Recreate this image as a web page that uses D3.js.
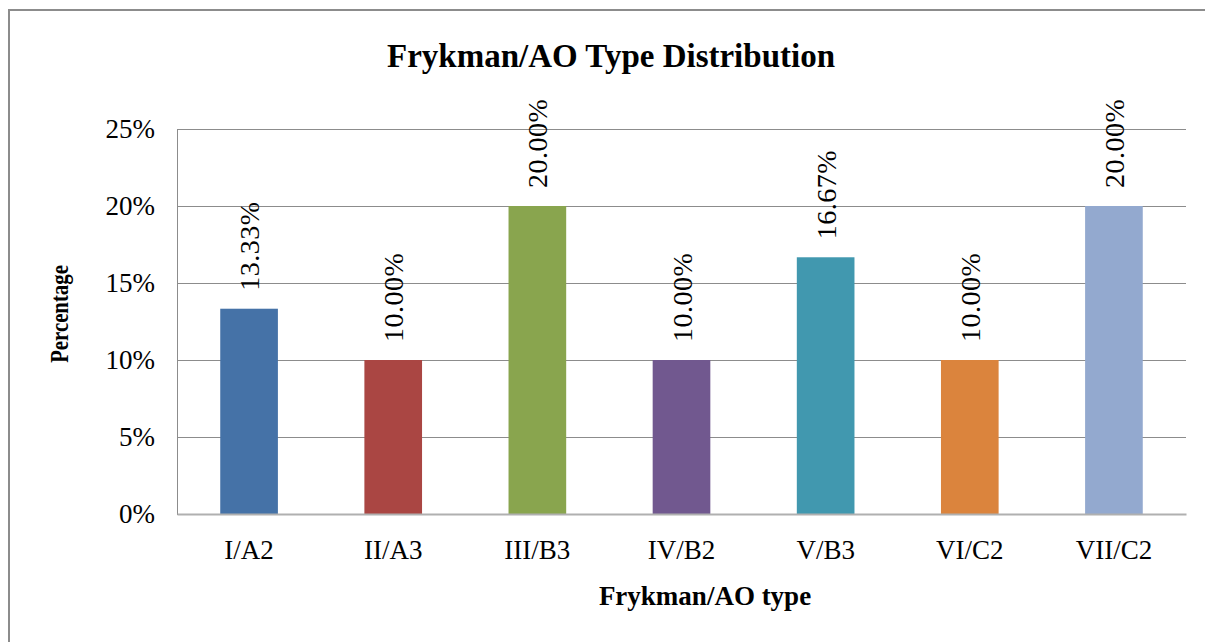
<!DOCTYPE html>
<html>
<head>
<meta charset="utf-8">
<script src="https://cdn.jsdelivr.net/npm/d3@7"></script>
<style>
  body { margin: 0; background: #fff; }
  svg text { font-family: "Liberation Serif", "DejaVu Serif", serif; fill: #000; }
</style>
</head>
<body>
<div id="chart"></div>
<script>
// Frykman/AO type distribution
const categories = ["I/A2", "II/A3", "III/B3", "IV/B2", "V/B3", "VI/C2", "VII/C2"];
const values = [13.33, 10.00, 20.00, 10.00, 16.67, 10.00, 20.00];
const barColors = ["#4572A7", "#AA4643", "#89A54E", "#71588F", "#4198AF", "#DB843D", "#93A9CF"];
const yTicks = [0, 5, 10, 15, 20, 25];

const W = 1205, H = 642;
const plot = { left: 177, top: 129, right: 1186, bottom: 514 };
const serif = "'Liberation Serif', 'DejaVu Serif', serif";

const svg = d3.select("#chart").append("svg")
    .attr("width", W)
    .attr("height", H);

// outer chart frame (runs off the right/bottom edge)
svg.append("rect")
    .attr("x", 9).attr("y", 10)
    .attr("width", W + 20).attr("height", H + 20)
    .attr("fill", "none")
    .attr("stroke", "#8c8c8c")
    .attr("stroke-width", 2);

// Scales
const x = d3.scaleBand().domain(categories).range([plot.left, plot.right]);
const y = d3.scaleLinear().domain([0, 25]).range([plot.bottom, plot.top]);
const barW = x.bandwidth() * 0.4;

// gridlines + y labels
const yAxis = d3.axisLeft(y)
    .tickValues(yTicks)
    .tickSize(-(plot.right - plot.left))
    .tickPadding(22)
    .tickFormat(d => d + "%");

const gy = svg.append("g")
    .attr("transform", "translate(" + plot.left + ",0)")
    .call(yAxis)
    .attr("font-family", serif);
gy.select(".domain").attr("stroke", "#8c8c8c");
gy.selectAll(".tick line").attr("stroke", "#8c8c8c").attr("stroke-width", 1);
gy.selectAll(".tick text")
    .style("font-family", serif)
    .style("font-size", "27px")
    .attr("fill", "#000");

// bars
svg.selectAll("rect.bar")
    .data(values)
    .enter()
    .append("rect")
    .attr("class", "bar")
    .attr("x", (d, i) => x(categories[i]) + (x.bandwidth() - barW) / 2)
    .attr("y", d => y(d))
    .attr("width", barW)
    .attr("height", d => plot.bottom - y(d))
    .attr("fill", (d, i) => barColors[i]);

// x axis
const xAxis = d3.axisBottom(x).tickSize(0).tickPadding(26);
const gx = svg.append("g")
    .attr("transform", "translate(0," + plot.bottom + ")")
    .call(xAxis)
    .attr("font-family", serif);
gx.select(".domain").attr("stroke", "#b0b0b0").attr("stroke-width", 2);
gx.selectAll(".tick text")
    .style("font-family", serif)
    .style("font-size", "27px")
    .attr("fill", "#000");

// value labels, rotated
svg.selectAll("text.val")
    .data(values)
    .enter()
    .append("text")
    .attr("class", "val")
    .attr("transform", (d, i) => "translate(" + (x(categories[i]) + x.bandwidth() / 2 + 10) + "," + (y(d) - 18) + ") rotate(-90)")
    .style("font-family", serif)
    .style("font-size", "28px")
    .style("letter-spacing", "0.5px")
    .text(d => d.toFixed(2) + "%");

// title
svg.append("text")
    .attr("x", 611).attr("y", 67)
    .attr("text-anchor", "middle")
    .style("font-family", serif)
    .style("font-size", "33px")
    .style("font-weight", "bold")
    .text("Frykman/AO Type Distribution");

// axis titles (y title is a bit condensed along its length in the original)
svg.append("text")
    .attr("transform", "translate(68,314) rotate(-90) scale(0.8,1)")
    .attr("text-anchor", "middle")
    .style("font-family", serif)
    .style("font-size", "26px")
    .style("font-weight", "bold")
    .text("Percentage");

svg.append("text")
    .attr("x", 705).attr("y", 605)
    .attr("text-anchor", "middle")
    .style("font-family", serif)
    .style("font-size", "27px")
    .style("font-weight", "bold")
    .text("Frykman/AO type");
</script>
</body>
</html>
